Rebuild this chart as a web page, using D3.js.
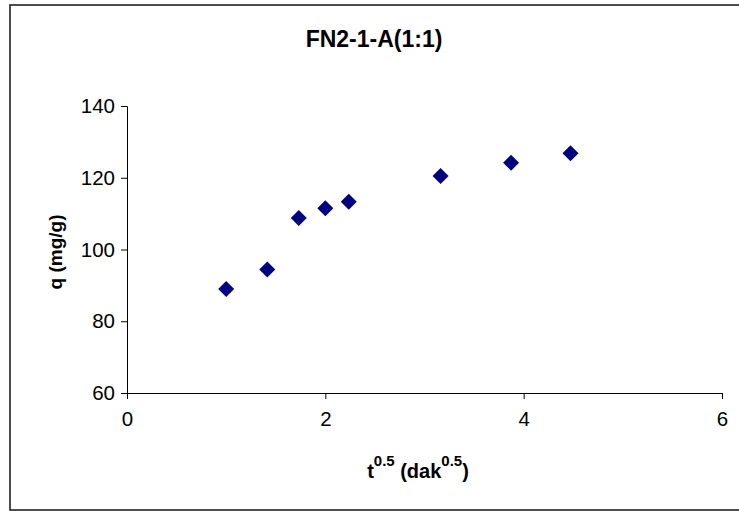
<!DOCTYPE html>
<html>
<head>
<meta charset="utf-8">
<script src="https://cdn.jsdelivr.net/npm/d3@7"></script>
<style>
  html, body { margin: 0; padding: 0; background: #fff; }
  svg { display: block; font-family: Arial, "Liberation Sans", sans-serif; }
</style>
</head>
<body>
<svg id="chart" width="739" height="511"></svg>
<script>
// Intra-particle diffusion plot: q versus square root of time
const title = "FN2-1-A(1:1)";
const tSqrt = [1, 1.414, 1.732, 2, 2.236, 3.162, 3.873, 4.472];
const qValues = [89.0, 94.4, 108.8, 111.5, 113.3, 120.5, 124.2, 126.8];
const xTicks = [0, 2, 4, 6];
const yTicks = [60, 80, 100, 120, 140];

const svg = d3.select("#chart");
const FONT = "Arial, 'Liberation Sans', sans-serif";

// Chart area frame
svg.append("rect")
  .attr("x", 10).attr("y", 5)
  .attr("width", 740).attr("height", 505)
  .attr("fill", "#fff")
  .attr("stroke", "#222").attr("stroke-width", 1.6);

const plot = { left: 127, right: 722, top: 106, bottom: 393 };

const x = d3.scaleLinear().domain([0, 6]).range([plot.left, plot.right]);
const y = d3.scaleLinear().domain([60, 140]).range([plot.bottom, plot.top]);

// Axes
const xAxis = d3.axisBottom(x).tickValues(xTicks).tickSize(6).tickPadding(12).tickFormat(d3.format("d"));
const yAxis = d3.axisLeft(y).tickValues(yTicks).tickSize(6).tickPadding(6).tickFormat(d3.format("d"));

const gx = svg.append("g").attr("transform", `translate(0,${plot.bottom})`).call(xAxis);
const gy = svg.append("g").attr("transform", `translate(${plot.left},0)`).call(yAxis);

[gx, gy].forEach(g => {
  g.attr("font-size", 20.5).attr("font-family", FONT);
  g.select(".domain").attr("stroke", "#000").attr("stroke-width", 1);
  g.selectAll(".tick line").attr("stroke", "#000").attr("stroke-width", 1);
  g.selectAll(".tick text").attr("fill", "#000");
});

// Title
svg.append("text")
  .attr("x", 374).attr("y", 47)
  .attr("text-anchor", "middle")
  .attr("font-size", 23).attr("font-weight", "bold")
  .text(title);

// Y axis label
svg.append("text")
  .attr("transform", "translate(62,252) rotate(-90)")
  .attr("text-anchor", "middle")
  .attr("font-size", 19).attr("font-weight", "bold")
  .text("q (mg/g)");

// X axis label with superscripts
const xl = svg.append("text")
  .attr("x", 418).attr("y", 478)
  .attr("text-anchor", "middle")
  .attr("font-size", 20).attr("font-weight", "bold");
xl.append("tspan").text("t");
xl.append("tspan").attr("dy", -12).attr("font-size", 15).text("0.5");
xl.append("tspan").attr("dy", 12).text(" (dak");
xl.append("tspan").attr("dy", -12).attr("font-size", 15).text("0.5");
xl.append("tspan").attr("dy", 12).text(")");

// Data markers: diamonds
svg.append("g")
  .selectAll("path")
  .data(tSqrt.map((t, i) => ({ t, q: qValues[i] })))
  .join("path")
  .attr("d", "M0,-8L8,0L0,8L-8,0Z")
  .attr("transform", d => `translate(${x(d.t)},${y(d.q)})`)
  .attr("fill", "#000080");
</script>
</body>
</html>
